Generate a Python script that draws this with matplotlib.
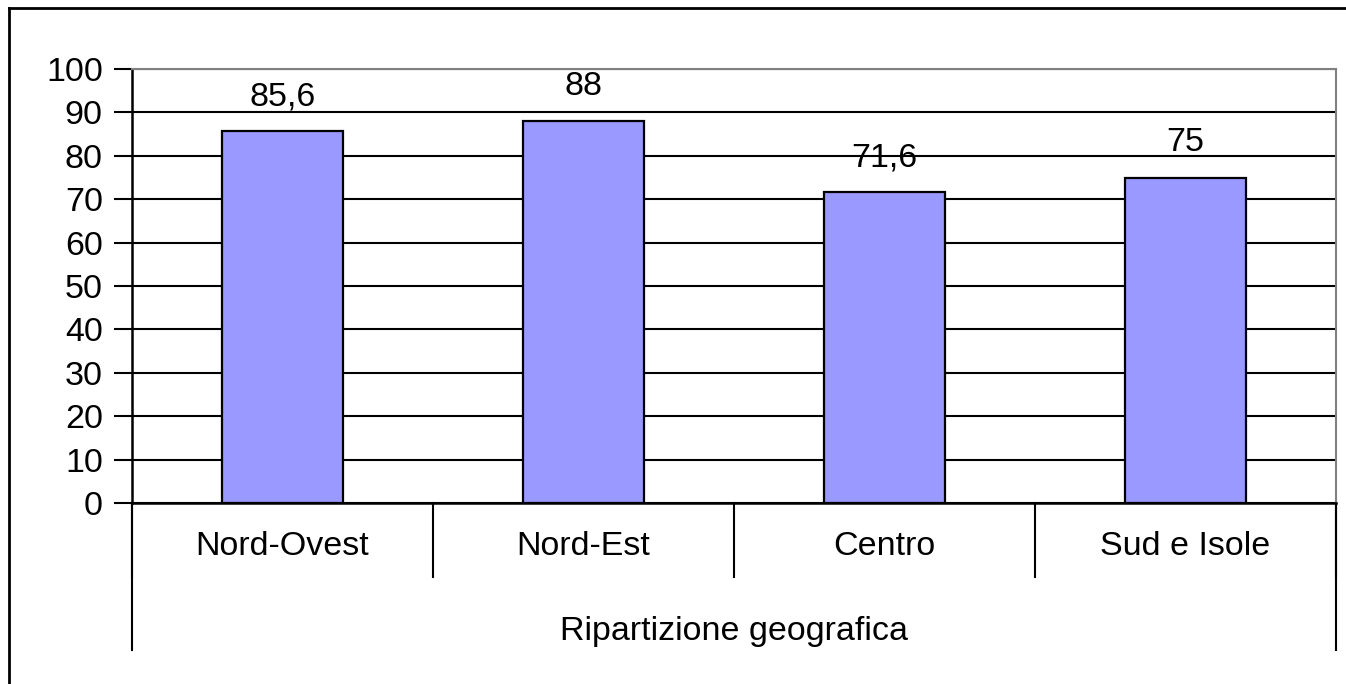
import matplotlib.pyplot as plt
from matplotlib.lines import Line2D
import matplotlib.transforms as mtransforms

plt.rcParams['font.family'] = ['Liberation Sans', 'DejaVu Sans']

categories = ['Nord-Ovest', 'Nord-Est', 'Centro', 'Sud e Isole']
values = [85.6, 88, 71.6, 75]
value_labels = ['85,6', '88', '71,6', '75']
group_label = 'Ripartizione geografica'
yticks = list(range(0, 101, 10))

FS = 24.5
W, H = 1346, 684
fig = plt.figure(figsize=(W / 100, H / 100), dpi=100)
ax = fig.add_axes([132 / W, 1 - 503 / H, (1336 - 132) / W, (503 - 69) / H])

x = list(range(len(categories)))
ax.bar(x, values, width=0.405, color='#9999FF', edgecolor='black', linewidth=1.6, zorder=3)
for xi, v, lab in zip(x, values, value_labels):
    ax.text(xi, v + 8, lab, ha='center', va='center', fontsize=FS, zorder=4)

ax.set_xlim(-0.5, len(categories) - 0.5)
ax.set_ylim(0, 100)
ax.set_yticks(yticks)
ax.set_yticklabels([str(t) for t in yticks], fontsize=FS)
ax.tick_params(axis='y', length=13, width=1.5, pad=8)
ax.set_xticks([])
ax.yaxis.grid(True, color='black', linewidth=1.5, zorder=0)

for side in ['top', 'right']:
    ax.spines[side].set_color('#808080')
    ax.spines[side].set_linewidth(1.5)
ax.spines['left'].set_linewidth(1.8)
ax.spines['bottom'].set_linewidth(1.8)

# multi-level category axis
trans = mtransforms.blended_transform_factory(ax.transData, ax.transAxes)
for b in [i - 0.5 for i in range(len(categories) + 1)]:
    ax.plot([b, b], [0, -0.1705], color='black', lw=1.5, transform=trans, clip_on=False)
for b in [-0.5, len(categories) - 0.5]:
    ax.plot([b, b], [0, -0.339], color='black', lw=1.5, transform=trans, clip_on=False)
for xi, c in zip(x, categories):
    ax.text(xi, -0.1, c, ha='center', va='center', fontsize=FS, transform=trans)
ax.text((len(categories) - 1) / 2, -0.297, group_label, ha='center', va='center',
        fontsize=FS, transform=trans)

# outer chart frame (left and top edges visible)
fig.add_artist(Line2D([9 / W, 9 / W], [0, 1 - 8 / H], color='black', lw=2, transform=fig.transFigure))
fig.add_artist(Line2D([9 / W, 1], [1 - 8 / H, 1 - 8 / H], color='black', lw=2, transform=fig.transFigure))

plt.savefig('out.png', dpi=100)
